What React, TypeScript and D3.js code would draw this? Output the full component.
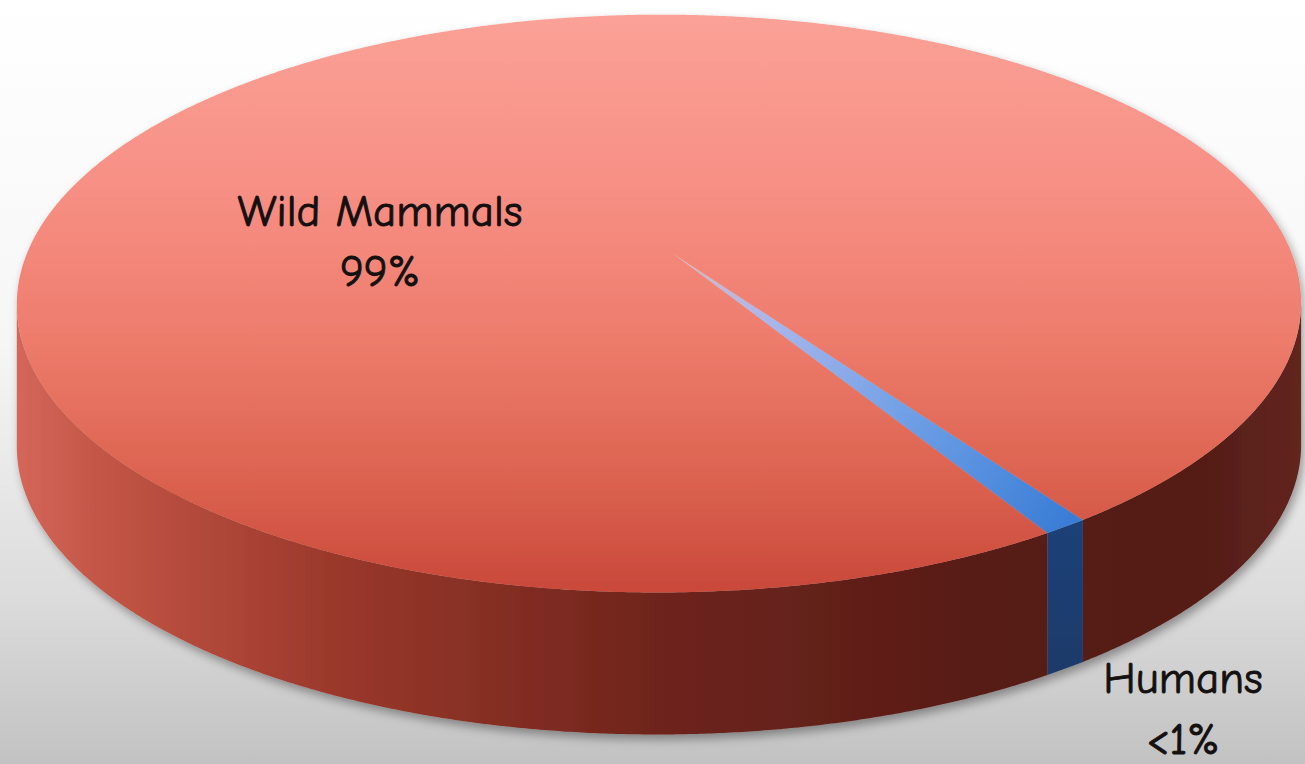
import React from "react";
import * as d3 from "d3";

const categories = ["Humans", "Wild Mammals"];
const values = [1, 99];
const valueLabels = ["<1%", "99%"];

const W = 1305;
const H = 764;
// projection of the disc (perspective-like)
const CX = 672;
const CY = 253;
const A = 632;
const B = 280;
const K = 0.175;
const M = -0.02;
const DEPTH = 142;
const START = (145.7 * Math.PI) / 180;

function proj(u: number, v: number): [number, number] {
  const d = 1 - K * v - M * u;
  return [CX + (A * u) / d, CY + (B * v) / d];
}
function rim(a: number): [number, number] {
  return proj(Math.sin(a), -Math.cos(a));
}
function sampleRim(a0: number, a1: number, dy = 0): [number, number][] {
  const n = Math.max(2, Math.ceil(Math.abs(a1 - a0) / 0.005));
  const pts: [number, number][] = [];
  for (let i = 0; i <= n; i++) {
    const a = a0 + ((a1 - a0) * i) / n;
    const p = rim(a);
    pts.push([p[0], p[1] + dy]);
  }
  return pts;
}

const line = d3.line<[number, number]>();

function visibleRange(): [number, number] {
  let maxX = -Infinity, minX = Infinity, aR = 0, aL = 0;
  for (let i = 0; i < 4000; i++) {
    const a = (i / 4000) * Math.PI * 2;
    const [x] = rim(a);
    if (x > maxX) { maxX = x; aR = a; }
    if (x < minX) { minX = x; aL = a; }
  }
  return [aR, aL];
}

const fills = ["url(#blueTop)", "url(#redTop)"];
const sideFills = ["url(#blueSide)", "url(#redSide)"];

export default function App() {
  const pie = d3
    .pie<number>()
    .sort(null)
    .startAngle(START)
    .endAngle(START + Math.PI * 2);
  const arcs = pie(values);
  const [aR, aL] = visibleRange();

  const sides: { d: string; i: number }[] = [];
  arcs.forEach((arc, i) => {
    for (let k = -1; k <= 2; k++) {
      const s = Math.max(arc.startAngle, aR + k * Math.PI * 2);
      const e = Math.min(arc.endAngle, aL + k * Math.PI * 2);
      if (e > s) {
        const top = sampleRim(s, e);
        const bot = sampleRim(e, s, DEPTH);
        sides.push({ d: line([...top, ...bot])! + "Z", i });
      }
    }
  });

  const center = proj(0, 0);
  const tops = arcs.map((arc, i) => {
    const pts = [center, ...sampleRim(arc.startAngle, arc.endAngle)];
    return { d: line(pts)! + "Z", i };
  });

  const hMid = (arcs[0].startAngle + arcs[0].endAngle) / 2;
  const hRim = rim(hMid);

  const font = "'Comic Sans MS', 'Comic Neue', Lato, sans-serif";

  return (
    <svg
      width={W}
      height={H}
      style={{ position: "fixed", left: 0, top: 0 }}
    >
      <defs>
        <linearGradient id="bg" x1="0" y1="0" x2="0" y2="1">
          <stop offset="0" stopColor="#ffffff" />
          <stop offset="0.45" stopColor="#f6f6f6" />
          <stop offset="0.78" stopColor="#dcdcdc" />
          <stop offset="1" stopColor="#c2c2c2" />
        </linearGradient>
        <linearGradient id="redTop" gradientUnits="userSpaceOnUse" x1="0" y1={15} x2="0" y2={592}>
          <stop offset="0" stopColor="#fba197" />
          <stop offset="0.3" stopColor="#f78f84" />
          <stop offset="0.55" stopColor="#ee7d6d" />
          <stop offset="0.8" stopColor="#dc6350" />
          <stop offset="1" stopColor="#c9483a" />
        </linearGradient>
        <linearGradient id="redSide" gradientUnits="userSpaceOnUse" x1={15} y1="0" x2={1300} y2="0">
          <stop offset="0" stopColor="#d4675a" />
          <stop offset="0.07" stopColor="#c25545" />
          <stop offset="0.25" stopColor="#9a382b" />
          <stop offset="0.5" stopColor="#6f241c" />
          <stop offset="0.75" stopColor="#581c17" />
          <stop offset="0.92" stopColor="#541c17" />
          <stop offset="1" stopColor="#62251f" />
        </linearGradient>
        <linearGradient id="blueTop" gradientUnits="userSpaceOnUse" x1={center[0]} y1={center[1]} x2={hRim[0]} y2={hRim[1]}>
          <stop offset="0" stopColor="#e3b8c0" />
          <stop offset="0.25" stopColor="#a9b6ea" />
          <stop offset="0.6" stopColor="#6f9fe6" />
          <stop offset="1" stopColor="#3a7dd6" />
        </linearGradient>
        <linearGradient id="blueSide" x1="0" y1="0" x2="0" y2="1">
          <stop offset="0" stopColor="#1d4178" />
          <stop offset="1" stopColor="#1a3a69" />
        </linearGradient>
        <filter id="shadow" x="-10%" y="-10%" width="120%" height="130%">
          <feDropShadow dx="3" dy="5" stdDeviation="5" floodColor="#000" floodOpacity="0.35" />
        </filter>
      </defs>
      <rect x={0} y={0} width={W} height={H} fill="url(#bg)" />
      <g filter="url(#shadow)">
        {sides.map((s, j) => (
          <path key={"s" + j} d={s.d} fill={sideFills[s.i]} />
        ))}
        {tops.map((t) => (
          <path key={"t" + t.i} d={t.d} fill={fills[t.i]} />
        ))}
      </g>
      <g fontFamily={font} fontSize={45} fill="#141010" stroke="#141010" strokeWidth={0.9} textAnchor="middle">
        <text x={380} y={226}>{categories[1]}</text>
        <text x={380} y={286}>{valueLabels[1]}</text>
        <text x={1183} y={693}>{categories[0]}</text>
        <text x={1183} y={754}>{valueLabels[0]}</text>
      </g>
    </svg>
  );
}
